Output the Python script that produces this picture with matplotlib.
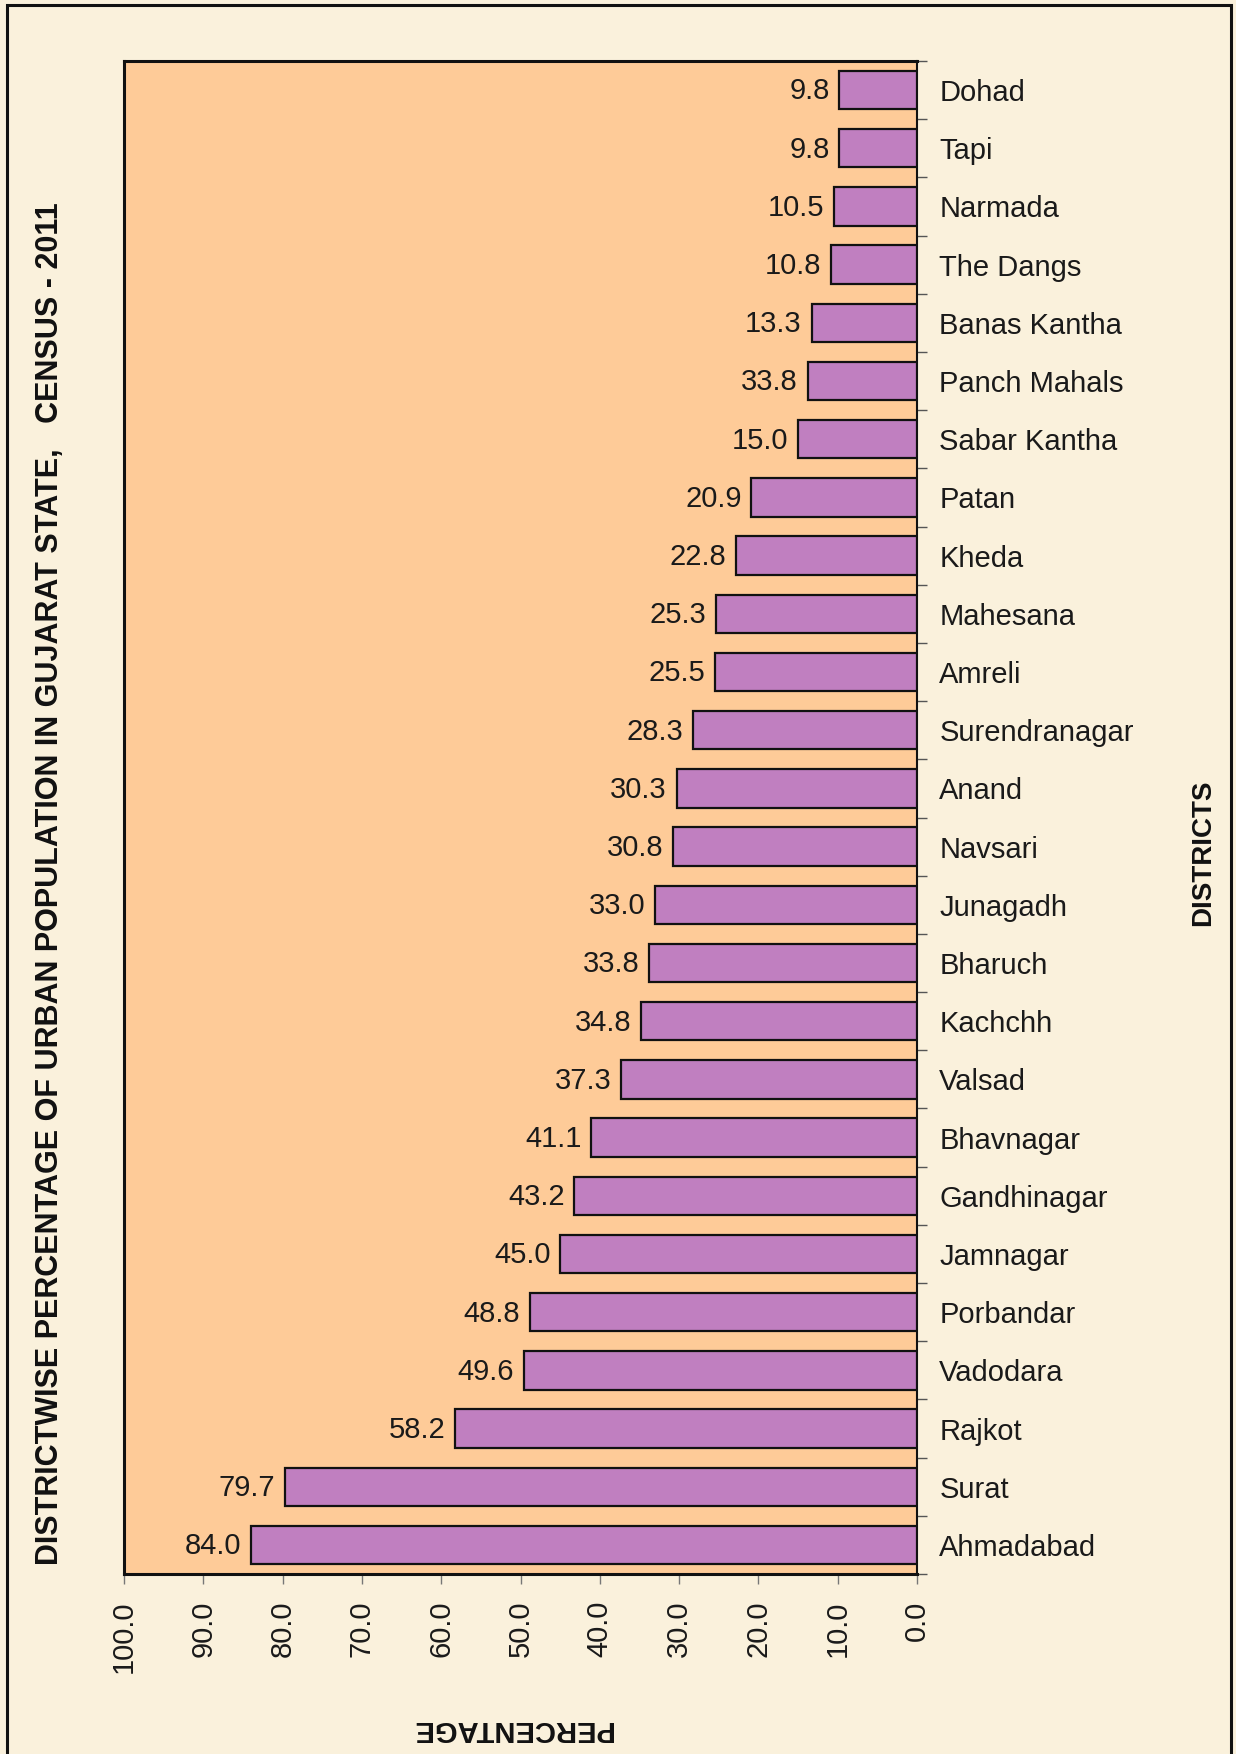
import matplotlib
matplotlib.use("Agg")
import matplotlib.pyplot as plt
from matplotlib.patches import Rectangle
from matplotlib.ticker import FixedLocator
import numpy as np

plt.rcParams['font.family'] = ['Liberation Sans', 'DejaVu Sans']

districts = ["Dohad", "Tapi", "Narmada", "The Dangs", "Banas Kantha", "Panch Mahals",
             "Sabar Kantha", "Patan", "Kheda", "Mahesana", "Amreli", "Surendranagar",
             "Anand", "Navsari", "Junagadh", "Bharuch", "Kachchh", "Valsad", "Bhavnagar",
             "Gandhinagar", "Jamnagar", "Porbandar", "Vadodara", "Rajkot", "Surat", "Ahmadabad"]
values = [9.8, 9.8, 10.5, 10.8, 13.3, 13.8, 15.0, 20.9, 22.8, 25.3, 25.5, 28.3, 30.3,
          30.8, 33.0, 33.8, 34.8, 37.3, 41.1, 43.2, 45.0, 48.8, 49.6, 58.2, 79.7, 84.0]
# value labels as printed on the original chart
value_labels = ["9.8", "9.8", "10.5", "10.8", "13.3", "33.8", "15.0", "20.9", "22.8", "25.3",
                "25.5", "28.3", "30.3", "30.8", "33.0", "33.8", "34.8", "37.3", "41.1", "43.2",
                "45.0", "48.8", "49.6", "58.2", "79.7", "84.0"]
x_ticks = [0, 10, 20, 30, 40, 50, 60, 70, 80, 90, 100]

title = "DISTRICTWISE PERCENTAGE OF URBAN POPULATION IN GUJARAT STATE,   CENSUS - 2011"

W, H = 1236, 1754
fig = plt.figure(figsize=(W / 100, H / 100), dpi=100, facecolor='#FAF1DC')

# outer frame
fig.add_artist(Rectangle((7 / W, -0.01), (1231 - 7) / W, (H - 5) / H + 0.01,
                         transform=fig.transFigure, fill=False, edgecolor='#111111',
                         linewidth=2.2))

left, right, top, bottom = 124, 917, 61, 1574
ax = fig.add_axes([left / W, 1 - bottom / H, (right - left) / W, (bottom - top) / H])
ax.set_facecolor('#FECB98')

n = len(districts)
ypos = np.arange(n)
ax.barh(ypos, values, height=0.66, color='#C07FC0', edgecolor='#111111', linewidth=1.6,
        zorder=3)

ax.set_xlim(100, 0)
ax.set_ylim(n - 0.5, -0.5)

for y, v, lbl in zip(ypos, values, value_labels):
    ax.annotate(lbl, xy=(v, y), xytext=(-7, -1), textcoords='offset points',
                ha='right', va='center', fontsize=21, color='#1a1a1a', zorder=4)

# y axis on right
ax.yaxis.tick_right()
ax.set_yticks(ypos)
ax.set_yticklabels(districts, fontsize=21, color='#1a1a1a')
ax.tick_params(axis='y', which='major', length=0, pad=16)
ax.yaxis.set_minor_locator(FixedLocator(np.arange(-0.5, n, 1.0)))
ax.tick_params(axis='y', which='minor', length=7, width=1, color='#555555', direction='out')

ax.set_xticks(x_ticks)
ax.set_xticklabels([f"{t:.1f}" for t in x_ticks], rotation=90, fontsize=21, color='#1a1a1a')
ax.tick_params(axis='x', which='major', length=7, width=1, color='#777777', pad=12)

for s in ['left', 'top', 'bottom']:
    ax.spines[s].set_linewidth(2.2)
    ax.spines[s].set_color('#111111')
ax.spines['right'].set_linewidth(1.5)
ax.spines['right'].set_color('#111111')

fig.text(50 / W, 1 - 884 / H, title, rotation=90, ha='center', va='center',
         fontsize=22, fontweight='bold', color='#111111')
fig.text(1203 / W, 1 - 853 / H, "DISTRICTS", rotation=90, ha='center', va='center',
         fontsize=20, fontweight='bold', color='#111111')
fig.text(512 / W, 1 - 1729 / H, "PERCENTAGE", rotation=180, ha='center', va='center',
         fontsize=21, fontweight='bold', color='#111111')

fig.savefig("out.png", dpi=100, facecolor=fig.get_facecolor())
